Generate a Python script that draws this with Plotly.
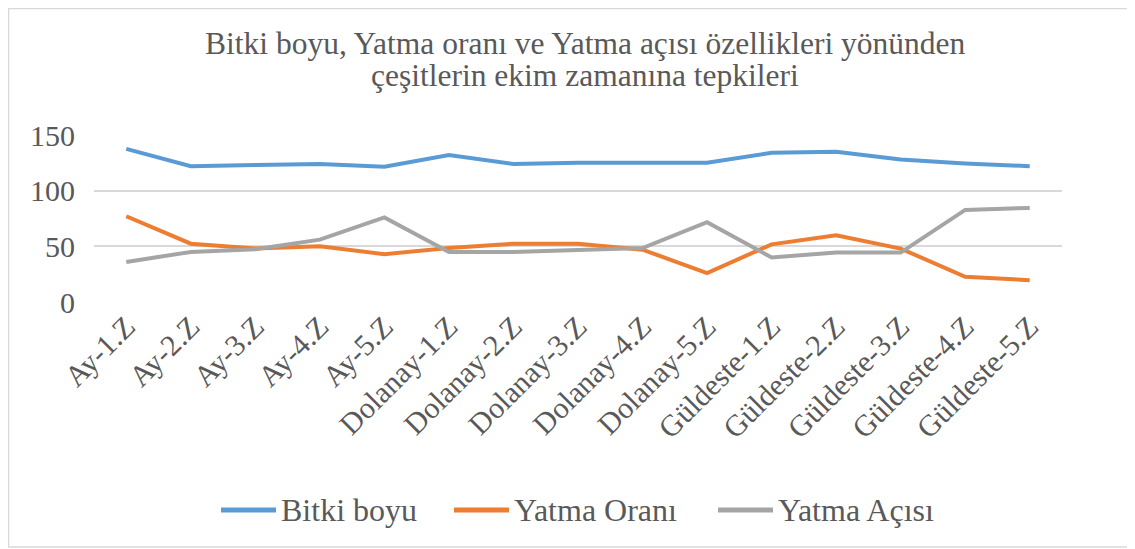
import plotly.graph_objects as go

categories = ["Ay-1.Z", "Ay-2.Z", "Ay-3.Z", "Ay-4.Z", "Ay-5.Z",
              "Dolanay-1.Z", "Dolanay-2.Z", "Dolanay-3.Z", "Dolanay-4.Z", "Dolanay-5.Z",
              "Güldeste-1.Z", "Güldeste-2.Z", "Güldeste-3.Z", "Güldeste-4.Z", "Güldeste-5.Z"]
bitki_boyu = [137.5, 122, 123, 124, 121.5, 132, 124, 125, 125, 125, 134, 135, 128, 124.4, 122]
yatma_orani = [77, 52.4, 48, 50, 43, 48.5, 52.4, 52.4, 47, 26, 51.8, 60, 48, 22.6, 19.6]
yatma_acisi = [36, 45, 47.3, 56, 76, 45, 45, 46.4, 48.5, 71.7, 40, 44.4, 44.4, 82.7, 84.5]
yticks = [0, 50, 100, 150]
title_lines = ["Bitki boyu, Yatma oranı ve Yatma açısı özellikleri yönünden",
               "çeşitlerin ekim zamanına tepkileri"]
series_names = ["Bitki boyu", "Yatma Oranı", "Yatma Açısı"]
series_colors = ["#5B9BD5", "#ED7D31", "#A5A5A5"]
series_values = [bitki_boyu, yatma_orani, yatma_acisi]

fig = go.Figure()
for name, vals, col in zip(series_names, series_values, series_colors):
    fig.add_trace(go.Scatter(x=categories, y=vals, name=name, mode="lines",
                             line=dict(color=col, width=4)))

font = "'Liberation Serif', 'Times New Roman', serif"
# page body has an 8px margin; figure coords = screen coords - 8
W, H = 1127, 541
ml, mt = 86, 127
pw, ph = 968, 167
mr, mb = W - ml - pw, H - mt - ph

def px_x(x):
    return (x - ml) / pw

def px_y(y):
    return 1 - (y - mt) / ph

fig.update_layout(
    width=W, height=H,
    margin=dict(l=ml, r=mr, t=mt, b=mb, autoexpand=False),
    paper_bgcolor="white", plot_bgcolor="white",
    font=dict(family=font, color="#595959", size=30),
    xaxis=dict(type="category", tickangle=-45, showgrid=False, showline=False,
               ticks="", tickfont=dict(family=font, size=30), automargin=False,
               range=[-0.5, len(categories) - 0.5]),
    yaxis=dict(range=[0, 150], tickvals=yticks, showgrid=True, gridcolor="#D9D9D9",
               gridwidth=1.5, zeroline=False, showline=False, ticks="",
               tickfont=dict(family=font, size=30), automargin=False, ticklabelstandoff=18),
    showlegend=False,
)
for txt, ypx in zip(title_lines, [35, 67]):
    fig.add_annotation(text=txt, xref="paper", yref="paper",
                       x=px_x(577), y=px_y(ypx),
                       xanchor="center", yanchor="middle", showarrow=False,
                       font=dict(family=font, size=31.5, color="#595959"))

# legend (drawn manually to match spacing)
leg_y = 502
leg_lines = [(213, 268), (446, 501), (710, 765)]
for name, col, (x0, x1) in zip(series_names, series_colors, leg_lines):
    fig.add_shape(type="line", xref="paper", yref="paper",
                  x0=px_x(x0), x1=px_x(x1), y0=px_y(leg_y), y1=px_y(leg_y),
                  line=dict(color=col, width=5))
    fig.add_annotation(text=name, xref="paper", yref="paper",
                       x=px_x(x1 + 3), y=px_y(leg_y), xanchor="left", yanchor="middle",
                       showarrow=False, font=dict(family=font, size=32, color="#595959"))

fig.add_shape(type="rect", xref="paper", yref="paper",
              x0=px_x(0.5), x1=px_x(1125), y0=px_y(539), y1=px_y(0.5),
              line=dict(color="#D9D9D9", width=1.5), layer="below")
fig.write_html("out.html")
